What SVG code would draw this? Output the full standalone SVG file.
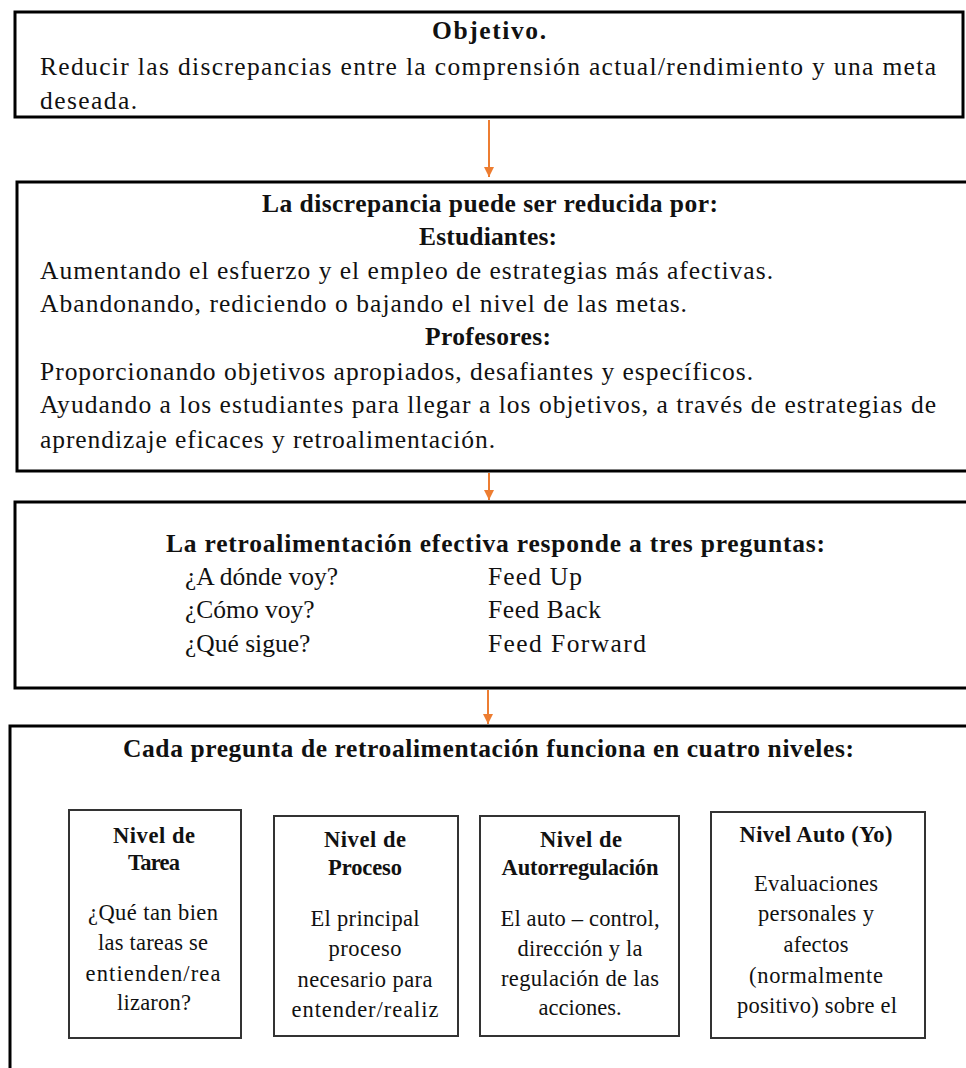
<svg xmlns="http://www.w3.org/2000/svg" width="966" height="1068" viewBox="0 0 966 1068">
<defs>
<style>
.box{fill:#fff;stroke:#000;stroke-width:3}
.ibox{fill:#fff;stroke:#333;stroke-width:2}
text{font-family:"Liberation Serif","DejaVu Serif",serif;fill:#111}
.t{font-size:25.5px}
.tb{font-size:25.5px;font-weight:bold}
.c{text-anchor:middle}
.s{font-size:22.5px;text-anchor:middle}
.sb{font-size:22.5px;font-weight:bold;text-anchor:middle}
.conn{stroke:#ED7D31;stroke-width:2;fill:none}
</style>
<marker id="ah" viewBox="0 0 10 10" refX="10" refY="5" markerWidth="5" markerHeight="6" markerUnits="strokeWidth" orient="auto">
<path d="M0,0 L10,5 L0,10 z" fill="#ED7D31"/>
</marker>
</defs>
<rect width="966" height="1068" fill="#fff"/>

<g id="objetivo">
<rect class="box" x="15" y="12" width="948" height="105"/>
<text class="tb c" x="489" y="39" textLength="114">Objetivo.</text>
<text class="t" x="40" y="75" textLength="896">Reducir las discrepancias entre la comprensión actual/rendimiento y una meta</text>
<text class="t" x="40" y="109" textLength="97">deseada.</text>
</g>

<g id="discrepancia">
<rect class="box" x="17" y="182" width="962" height="289"/>
<text class="tb c" x="490" y="212" textLength="456">La discrepancia puede ser reducida por:</text>
<text class="tb c" x="488" y="245" textLength="138">Estudiantes:</text>
<text class="t" x="40" y="279" textLength="733">Aumentando el esfuerzo y el empleo de estrategias más afectivas.</text>
<text class="t" x="40" y="312" textLength="647">Abandonando, rediciendo o bajando el nivel de las metas.</text>
<text class="tb c" x="488" y="345" textLength="126">Profesores:</text>
<text class="t" x="40" y="380" textLength="713">Proporcionando objetivos apropiados, desafiantes y específicos.</text>
<text class="t" x="40" y="413" textLength="896">Ayudando a los estudiantes para llegar a los objetivos, a través de estrategias de</text>
<text class="t" x="40" y="448" textLength="455">aprendizaje eficaces y retroalimentación.</text>
</g>

<g id="preguntas">
<rect class="box" x="15" y="502" width="964" height="186"/>
<text class="tb" x="166" y="552" textLength="659">La retroalimentación efectiva responde a tres preguntas:</text>
<text class="t" x="185" y="585">¿A dónde voy?</text>
<text class="t" x="185" y="618">¿Cómo voy?</text>
<text class="t" x="185" y="652">¿Qué sigue?</text>
<text class="t" x="488" y="585" textLength="94">Feed Up</text>
<text class="t" x="488" y="618" textLength="113">Feed Back</text>
<text class="t" x="488" y="652" textLength="158">Feed Forward</text>
</g>

<g id="niveles">
<rect class="box" x="10" y="726" width="972" height="400"/>
<text class="tb" x="123" y="757" textLength="731">Cada pregunta de retroalimentación funciona en cuatro niveles:</text>
</g>

<g id="nivel-tarea">
<rect class="ibox" x="69" y="810" width="172" height="228"/>
<text class="sb" x="154" y="843" textLength="82">Nivel de</text>
<text class="sb" x="154" y="870" textLength="52">Tarea</text>
<text class="s" x="153" y="920" textLength="130">¿Qué tan bien</text>
<text class="s" x="153" y="950" textLength="110">las tareas se</text>
<text class="s" x="153" y="981" textLength="135">entienden/rea</text>
<text class="s" x="154" y="1010" textLength="74">lizaron?</text>
</g>

<g id="nivel-proceso">
<rect class="ibox" x="274" y="816" width="184" height="220"/>
<text class="sb" x="365" y="847" textLength="82">Nivel de</text>
<text class="sb" x="365" y="875" textLength="74">Proceso</text>
<text class="s" x="365" y="926" textLength="109">El principal</text>
<text class="s" x="365" y="956" textLength="73">proceso</text>
<text class="s" x="365" y="987" textLength="135">necesario para</text>
<text class="s" x="365" y="1017" textLength="147">entender/realiz</text>
</g>

<g id="nivel-autorregulacion">
<rect class="ibox" x="480" y="816" width="199" height="220"/>
<text class="sb" x="581" y="847" textLength="82">Nivel de</text>
<text class="sb" x="580" y="875" textLength="157">Autorregulación</text>
<text class="s" x="580" y="926" textLength="159">El auto – control,</text>
<text class="s" x="580" y="956" textLength="125">dirección y la</text>
<text class="s" x="580" y="986" textLength="158">regulación de las</text>
<text class="s" x="580" y="1015" textLength="83">acciones.</text>
</g>

<g id="nivel-auto">
<rect class="ibox" x="711" y="812" width="214" height="226"/>
<text class="sb" x="816" y="842" textLength="153">Nivel Auto (Yo)</text>
<text class="s" x="816" y="891" textLength="124">Evaluaciones</text>
<text class="s" x="816" y="921" textLength="116">personales y</text>
<text class="s" x="816" y="952" textLength="65">afectos</text>
<text class="s" x="816" y="983" textLength="134">(normalmente</text>
<text class="s" x="817" y="1013" textLength="160">positivo) sobre el</text>
</g>

<g id="connectors">
<line class="conn" x1="489" y1="120" x2="489" y2="177" marker-end="url(#ah)"/>
<line class="conn" x1="489" y1="473" x2="489" y2="500" marker-end="url(#ah)"/>
<line class="conn" x1="488" y1="690" x2="488" y2="724" marker-end="url(#ah)"/>
</g>
</svg>
